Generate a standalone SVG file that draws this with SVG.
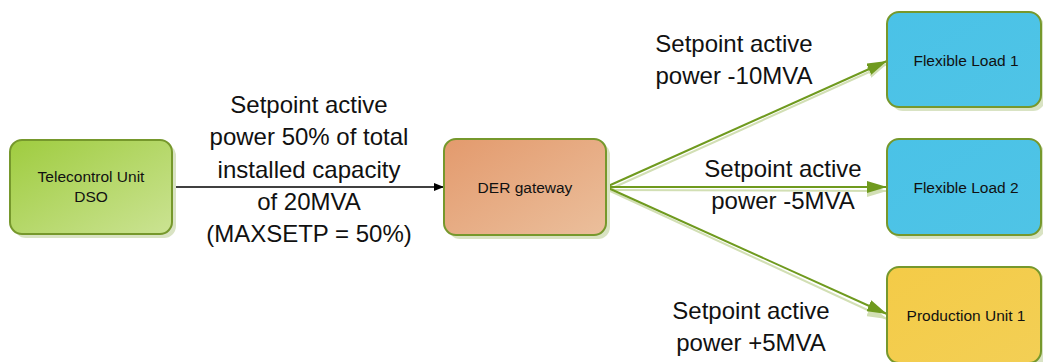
<svg xmlns="http://www.w3.org/2000/svg" width="1043" height="362" viewBox="0 0 1043 362">
<defs>
<linearGradient id="gGreen" x1="0" y1="0" x2="1" y2="1"><stop offset="0" stop-color="#9fcc3f"/><stop offset="1" stop-color="#cbe393"/></linearGradient>
<linearGradient id="gOrange" x1="0" y1="0" x2="1" y2="1"><stop offset="0" stop-color="#e39a6d"/><stop offset="1" stop-color="#ebbf9c"/></linearGradient>
<linearGradient id="gBlue" x1="0" y1="0" x2="1" y2="1"><stop offset="0" stop-color="#4ac2e7"/><stop offset="1" stop-color="#4fc4e6"/></linearGradient>
<linearGradient id="gYellow" x1="0" y1="0" x2="1" y2="1"><stop offset="0" stop-color="#f4cb47"/><stop offset="1" stop-color="#f3cf55"/></linearGradient>
<marker id="aBlack" viewBox="0 0 10 10" refX="10" refY="5" markerWidth="10" markerHeight="10" markerUnits="userSpaceOnUse" orient="auto"><path d="M0,1 L10,5 L0,9 z" fill="#000"/></marker>
<marker id="aGreen" viewBox="0 0 20 12" refX="20" refY="6" markerWidth="20" markerHeight="12" markerUnits="userSpaceOnUse" orient="auto"><path d="M0,0 L20,6 L0,12 z" fill="#6f9a1e"/></marker>
<marker id="aShadow" viewBox="0 0 20 12" refX="20" refY="6" markerWidth="20" markerHeight="12" markerUnits="userSpaceOnUse" orient="auto"><path d="M0,0 L20,6 L0,12 z" fill="#d2dfb4"/></marker>
</defs>
<style>
.box{stroke:#76982c;stroke-width:2}
.shadow{fill:#d9e3c3}
.nlabel{font-family:"Liberation Sans",Arial,sans-serif;font-size:15.5px;fill:#111;text-anchor:middle}
.elabel{font-family:"Liberation Sans",Arial,sans-serif;font-size:24px;fill:#111;text-anchor:middle}
.gline{stroke:#6f9a1e;stroke-width:2;fill:none}
.sline{stroke:#d2dfb4;stroke-width:2;fill:none}
</style>
<rect width="1043" height="362" fill="#fff"/>
<g id="connectors">
<line class="sline" x1="608" y1="190" x2="887" y2="64" marker-end="url(#aShadow)"/>
<line class="sline" x1="608" y1="190" x2="887" y2="191" marker-end="url(#aShadow)"/>
<line class="sline" x1="608" y1="190" x2="887" y2="319" marker-end="url(#aShadow)"/>
<line x1="172" y1="187" x2="444" y2="187" stroke="#000" stroke-width="1.3" marker-end="url(#aBlack)"/>
<line class="gline" x1="606" y1="187" x2="887" y2="61" marker-end="url(#aGreen)"/>
<line class="gline" x1="606" y1="187" x2="887" y2="187" marker-end="url(#aGreen)"/>
<line class="gline" x1="606" y1="187" x2="887" y2="314" marker-end="url(#aGreen)"/>
<text class="elabel"><tspan x="309" y="113">Setpoint active</tspan><tspan x="309" y="145">power 50% of total</tspan><tspan x="309" y="178">installed capacity</tspan><tspan x="309" y="210">of 20MVA</tspan><tspan x="309" y="242">(MAXSETP = 50%)</tspan></text>
<text class="elabel"><tspan x="734" y="52">Setpoint active</tspan><tspan x="734" y="84">power -10MVA</tspan></text>
<text class="elabel"><tspan x="783" y="177">Setpoint active</tspan><tspan x="783" y="209">power -5MVA</tspan></text>
<text class="elabel"><tspan x="751" y="319">Setpoint active</tspan><tspan x="751" y="351">power +5MVA</tspan></text>
</g>
<g id="telecontrol">
<rect class="shadow" x="14" y="144" width="162" height="94" rx="12"/>
<rect class="box" x="10" y="140" width="162" height="94" rx="12" fill="url(#gGreen)"/>
<text class="nlabel"><tspan x="91" y="182">Telecontrol Unit</tspan><tspan x="91" y="202">DSO</tspan></text>
</g>
<g id="der">
<rect class="shadow" x="448" y="143" width="162" height="96" rx="12"/>
<rect class="box" x="444" y="139" width="162" height="96" rx="12" fill="url(#gOrange)"/>
<text class="nlabel" x="525" y="193">DER gateway</text>
</g>
<g id="load1">
<rect class="shadow" x="891" y="16" width="154" height="95" rx="12"/>
<rect class="box" x="887" y="12" width="154" height="95" rx="12" fill="url(#gBlue)"/>
<text class="nlabel" x="966" y="66">Flexible Load 1</text>
</g>
<g id="load2">
<rect class="shadow" x="891" y="143" width="154" height="96" rx="12"/>
<rect class="box" x="887" y="139" width="154" height="96" rx="12" fill="url(#gBlue)"/>
<text class="nlabel" x="966" y="193">Flexible Load 2</text>
</g>
<g id="prod1">
<rect class="shadow" x="891" y="271" width="154" height="96" rx="12"/>
<rect class="box" x="887" y="267" width="154" height="96" rx="12" fill="url(#gYellow)"/>
<text class="nlabel" x="966" y="321">Production Unit 1</text>
</g>
</svg>
